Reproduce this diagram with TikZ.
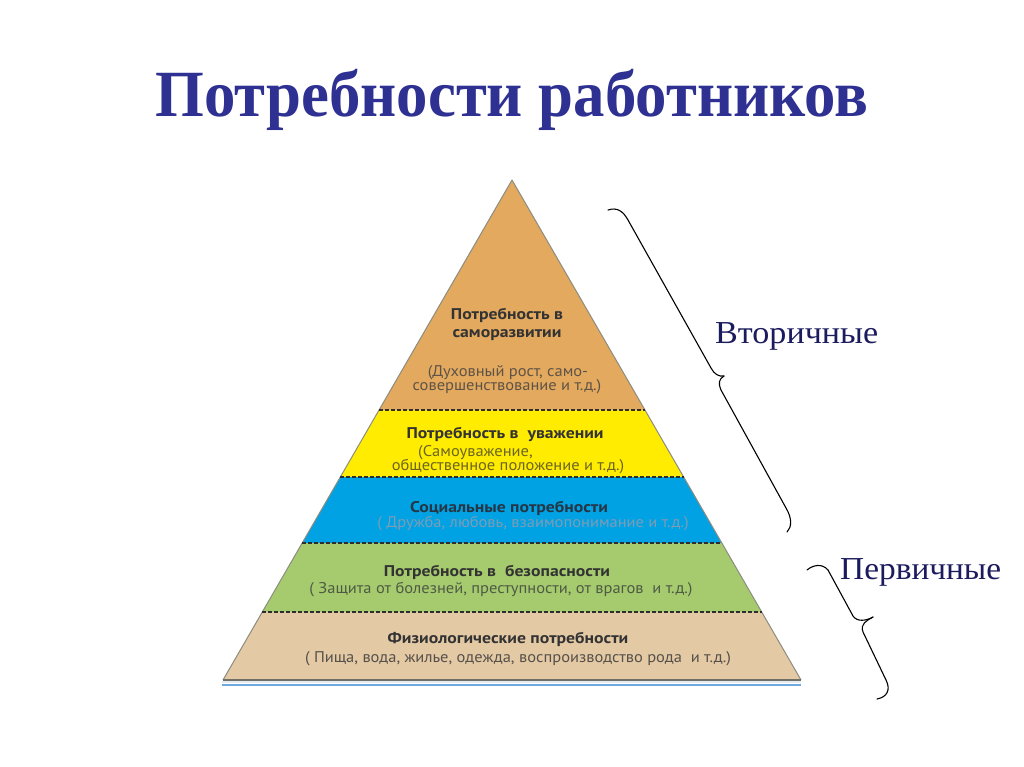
\documentclass[tikz,border=0pt]{standalone}
\usepackage{fontspec}
\setmainfont{Liberation Serif}
\newfontfamily\pyrfont{PT Sans}
\usepackage{graphicx}
\newsavebox\fitb
\newcommand\fitw[2]{\sbox\fitb{#2}\pgfmathsetmacro\fitsc{#1/\the\wd\fitb}\scalebox{\fitsc}[1]{\usebox\fitb}}
\newcommand\Bt[1]{\sbox\fitb{\pyrfont\bfseries\fontsize{15.5}{17}\selectfont Социальные потребности}%
  \pgfmathsetmacro\bsc{198/\the\wd\fitb}%
  \scalebox{\bsc}[1]{\pyrfont\bfseries\fontsize{15.5}{17}\selectfont #1}}
\newcommand\Rt[1]{\sbox\fitb{\pyrfont\fontsize{15.5}{17}\selectfont ( Пища, вода, жилье, одежда, воспроизводство рода\ \ и т.д.)}%
  \pgfmathsetmacro\rsc{426/\the\wd\fitb}%
  \scalebox{\rsc}[1]{\pyrfont\fontsize{15.5}{17}\selectfont #1}}
\definecolor{titleblue}{HTML}{2E3092}
\definecolor{navy}{HTML}{1B1B5E}
\definecolor{lorange}{HTML}{E2A95F}
\definecolor{lyellow}{HTML}{FFEC00}
\definecolor{lblue}{HTML}{00A2E3}
\definecolor{lgreen}{HTML}{A6CB6E}
\definecolor{ltan}{HTML}{E4C9A5}
\definecolor{edgegray}{HTML}{8C8C80}
\definecolor{dashgray}{HTML}{2E2E2E}
\definecolor{basestrip}{HTML}{E6ECEF}
\definecolor{baseblue}{HTML}{6FA8DC}
\definecolor{ttl}{HTML}{333333}
\definecolor{ttlblue}{HTML}{263645}
\definecolor{suborange}{HTML}{5F5347}
\definecolor{subyellow}{HTML}{6B6520}
\definecolor{subblue}{HTML}{7D9CB5}
\definecolor{subgreen}{HTML}{4F5A45}
\definecolor{subtan}{HTML}{55504A}
\begin{document}
\begin{tikzpicture}[x=1pt,y=-1pt,
  txt/.style={inner sep=0pt, anchor=base},
  layerline/.style={dashgray, line width=1.5pt, dash pattern=on 3.5pt off 2.5pt},
  brace/.style={black, line width=1.1pt, line cap=round, line join=round}]
\useasboundingbox[fill=white] (0,0) rectangle (1024,767);
% title
\node[txt, text=titleblue] (title) at (512,117) {\fitw{713}{\fontsize{66}{70}\selectfont\bfseries Потребности работников}};
% layers
\fill[lorange] (512,180) -- (644.9,410) -- (379.1,410) -- cycle;
\fill[lyellow] (379.1,410) -- (644.9,410) -- (683.7,477) -- (340.3,477) -- cycle;
\fill[lblue] (340.3,477) -- (683.7,477) -- (721.8,543) -- (302.2,543) -- cycle;
\fill[lgreen] (302.2,543) -- (721.8,543) -- (761.7,612) -- (262.3,612) -- cycle;
\fill[ltan] (262.3,612) -- (761.7,612) -- (801,680) -- (223,680) -- cycle;
\draw[edgegray, line width=1pt, line join=round] (223,680) -- (512,180) -- (801,680);
\draw[edgegray!80!black, line width=1.5pt] (223,680) -- (801,680);
\draw[basestrip, line width=2pt] (222,682.4) -- (801,682.4);
\draw[baseblue, line width=1.8pt] (222,684.8) -- (801,684.8);
\draw[layerline] (379.1,410) -- (644.9,410);
\draw[layerline] (340.3,477) -- (683.7,477);
\draw[layerline] (302.2,543) -- (721.8,543);
\draw[layerline] (262.3,612) -- (761.7,612);
% orange texts
\node[txt, text=ttl] (o1) at (507,319) {\Bt{Потребность в}};
\node[txt, text=ttl] (o2) at (507,337) {\Bt{саморазвитии}};
\node[txt, text=suborange] (o3) at (508,376) {\Rt{(Духовный рост, само-}};
\node[txt, text=suborange] (o4) at (507,390) {\Rt{совершенствование и т.д.)}};
% yellow texts
\node[txt, text=ttl] (y1) at (505,438) {\Bt{Потребность в\ \ уважении}};
\node[txt, text=subyellow, anchor=base west] (y2) at (418,456) {\Rt{(Самоуважение,}};
\node[txt, text=subyellow] (y3) at (508,470) {\Rt{общественное положение и т.д.)}};
% blue texts
\node[txt, text=ttlblue] (b1) at (509,512) {\Bt{Социальные потребности}};
\node[txt, text=subblue] (b2) at (533,527) {\Rt{( Дружба, любовь, взаимопонимание и т.д.)}};
% green texts
\node[txt, text=ttl] (g1) at (497,576) {\Bt{Потребность в\ \ безопасности}};
\node[txt, text=subgreen] (g2) at (501,593) {\Rt{( Защита от болезней, преступности, от врагов\ \ и т.д.)}};
% tan texts
\node[txt, text=ttl] (t1) at (508,643) {\Bt{Физиологические потребности}};
\node[txt, text=subtan] (t2) at (518,662) {\Rt{( Пища, вода, жилье, одежда, воспроизводство рода\ \ и т.д.)}};
% braces
\draw[brace] (608,210) .. controls (617,207) and (623,211) .. (628,220) -- (711,368)
  .. controls (714,374) and (719,377) .. (724,376);
\draw[brace] (724,376) .. controls (719,379) and (718,383) .. (721,390) -- (786,508)
  .. controls (792,518) and (792,527) .. (787,532);
\draw[brace] (807,570) .. controls (813,565) and (822,563) .. (828,570) -- (853,616)
  .. controls (857,622) and (866,621) .. (873,617);
\draw[brace] (873,617) .. controls (866,621) and (860,624) .. (863,632) -- (886,680)
  .. controls (891,690) and (887,697) .. (877,699);
% labels
\node[txt, text=navy, anchor=base west] (sec) at (715,343) {\fitw{163}{\fontsize{32}{36}\selectfont Вторичные}};
\node[txt, text=navy, anchor=base west] (prim) at (840,579) {\fitw{161}{\fontsize{32}{36}\selectfont Первичные}};
\end{tikzpicture}
\end{document}
